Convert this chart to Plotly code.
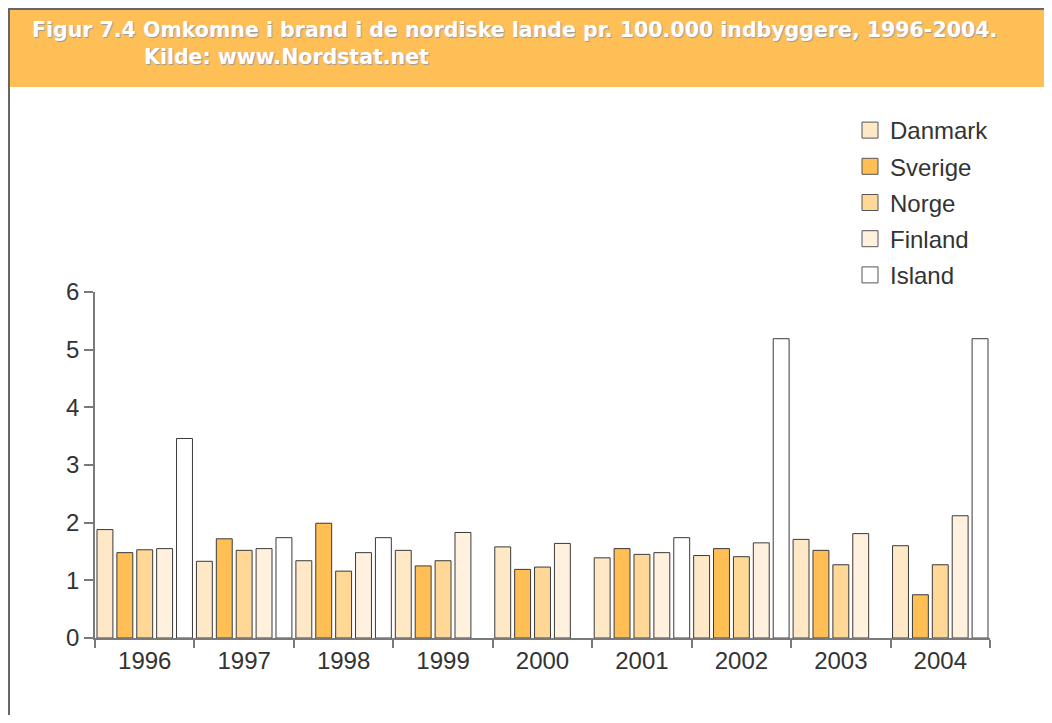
import plotly.graph_objects as go

years = ["1996", "1997", "1998", "1999", "2000", "2001", "2002", "2003", "2004"]
danmark = [1.88, 1.33, 1.34, 1.52, 1.58, 1.39, 1.43, 1.71, 1.60]
sverige = [1.48, 1.72, 1.99, 1.25, 1.19, 1.55, 1.55, 1.52, 0.75]
norge = [1.53, 1.52, 1.16, 1.34, 1.23, 1.45, 1.41, 1.27, 1.27]
finland = [1.55, 1.55, 1.48, 1.83, 1.64, 1.48, 1.65, 1.81, 2.12]
island = [3.46, 1.74, 1.74, None, None, 1.74, 5.19, None, 5.19]

series = [
    ("Danmark", danmark, "#FFE8C6"),
    ("Sverige", sverige, "#FFBF55"),
    ("Norge", norge, "#FFD796"),
    ("Finland", finland, "#FFF1DD"),
    ("Island", island, "#FFFFFF"),
]

# page body has an 8px margin; figure origin sits at page (8, 8)
OFF = 8
W, H = 1044, 707
PLOT_L, PLOT_R, PLOT_T, PLOT_B = 95, 990, 292, 638  # page pixels
ML = PLOT_L - OFF
MR = W - (PLOT_R - OFF)
MT = PLOT_T - OFF
MB = H - (PLOT_B - OFF)
PW, PH = W - ML - MR, H - MT - MB


def px_x(p):
    return (p - OFF - ML) / PW


def px_y(p):
    return (H - MB - (p - OFF)) / PH


fig = go.Figure()
for name, vals, col in series:
    fig.add_trace(go.Bar(
        x=years, y=vals, name=name, showlegend=False,
        marker=dict(color=col, line=dict(color="#3a3a3a", width=1)),
    ))
for name, vals, col in series:
    fig.add_trace(go.Scatter(
        x=[years[0]], y=[None], name=name, mode="markers", legendgroup=name,
        marker=dict(symbol="square", size=16, color=col,
                    line=dict(color="#555555", width=1)),
    ))

font_main = "Liberation Sans, Arial, sans-serif"

fig.update_layout(
    width=W, height=H,
    margin=dict(l=ML, r=MR, t=MT, b=MB, autoexpand=False),
    paper_bgcolor="white", plot_bgcolor="white",
    barmode="group", bargap=0, bargroupgap=0.2,
    showlegend=True,
    legend=dict(
        x=px_x(850), y=px_y(108), xanchor="left", yanchor="top",
        font=dict(family=font_main, size=24, color="#333333"),
        traceorder="grouped", tracegroupgap=2, itemsizing="trace",
        bgcolor="rgba(0,0,0,0)",
    ),
    xaxis=dict(
        type="category", showgrid=False, showline=True, linecolor="#7a7a7a", linewidth=2,
        ticks="outside", tickson="boundaries", ticklen=8, tickcolor="#7a7a7a", tickwidth=1.5,
        tickfont=dict(family=font_main, size=24, color="#333333"),
        range=[-0.5, 8.5], fixedrange=True,
    ),
    yaxis=dict(
        range=[0, 6], dtick=1, showgrid=False, zeroline=False, showline=True,
        linecolor="#7a7a7a", linewidth=1.5,
        ticks="outside", ticklen=9, tickcolor="#7a7a7a", tickwidth=1.5,
        tickfont=dict(family=font_main, size=24, color="#333333"),
        fixedrange=True,
    ),
)

# Header band and frame
fig.add_shape(type="rect", xref="paper", yref="paper",
              x0=px_x(OFF), x1=px_x(OFF + W + 5), y0=px_y(87), y1=px_y(OFF),
              fillcolor="#FFBF57", line=dict(width=0), layer="below")
fig.add_shape(type="line", xref="paper", yref="paper",
              x0=px_x(OFF), x1=px_x(OFF + W + 5), y0=px_y(OFF + 1), y1=px_y(OFF + 1),
              line=dict(color="#666666", width=2))
fig.add_shape(type="line", xref="paper", yref="paper",
              x0=px_x(OFF + 1), x1=px_x(OFF + 1), y0=px_y(OFF), y1=px_y(OFF + H + 5),
              line=dict(color="#666666", width=2))

title_font = dict(family="DejaVu Sans, sans-serif", size=20.5, color="white",
                  weight="bold", shadow="1px 1px 1px #9a9a9a")
fig.add_annotation(xref="paper", yref="paper", x=px_x(30), y=px_y(30),
                   xanchor="left", yanchor="middle", showarrow=False,
                   text="Figur 7.4 Omkomne i brand i de nordiske lande pr. 100.000 indbyggere, 1996-2004.",
                   font=title_font)
fig.add_annotation(xref="paper", yref="paper", x=px_x(142), y=px_y(57),
                   xanchor="left", yanchor="middle", showarrow=False,
                   text="Kilde: www.Nordstat.net", font=title_font)

fig.write_html("out.html")
